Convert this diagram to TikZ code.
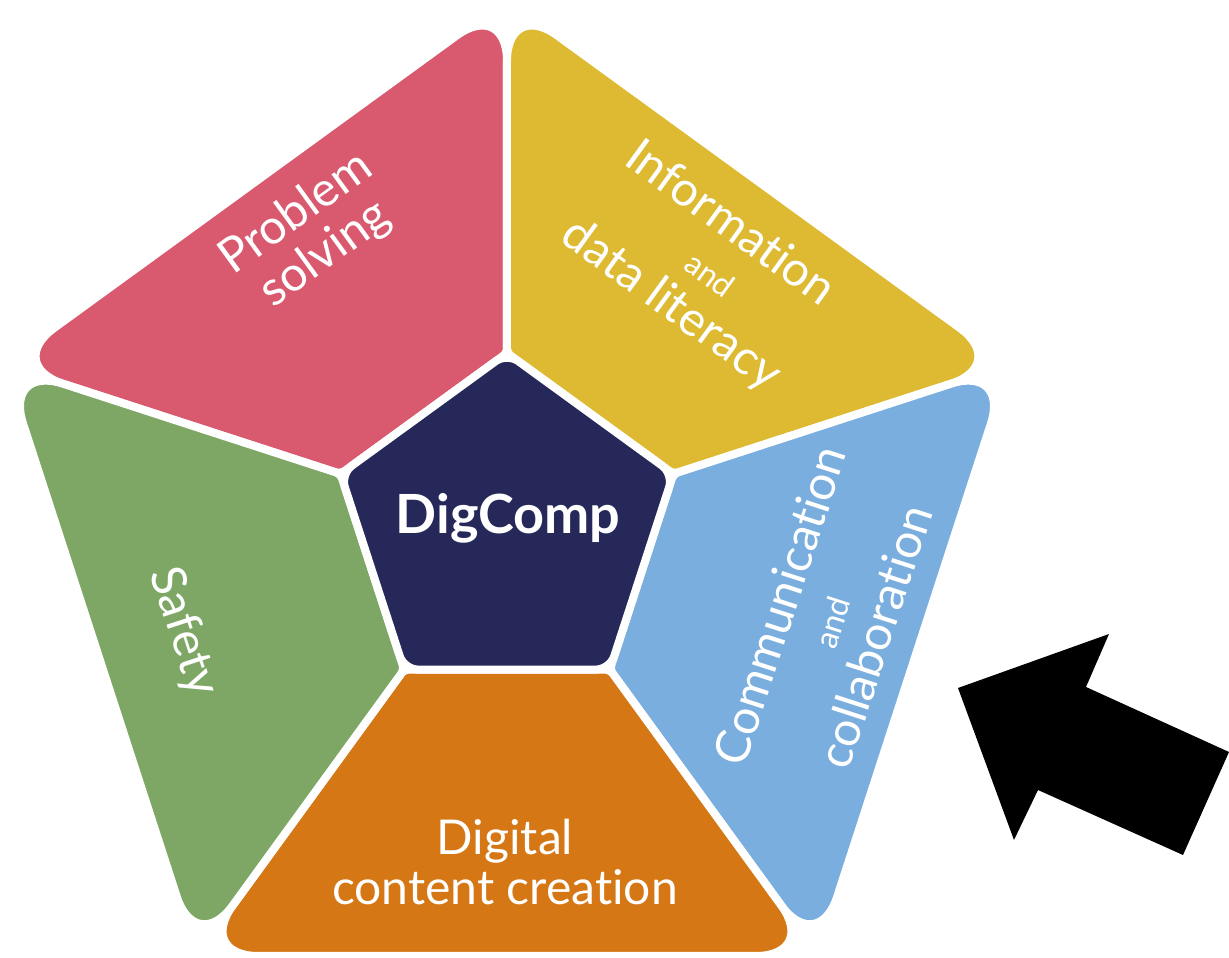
\documentclass[tikz,border=0pt]{standalone}
\usepackage{fontspec}
\setmainfont{Lato}[Ligatures={NoCommon}]
\usetikzlibrary{positioning}
\definecolor{probcol}{HTML}{D9596F}
\definecolor{infocol}{HTML}{DDBA31}
\definecolor{commcol}{HTML}{7AAEDE}
\definecolor{digicol}{HTML}{D57714}
\definecolor{safecol}{HTML}{7EA766}
\definecolor{corecol}{HTML}{26285A}
\tikzset{
	segment/.append style={
		draw=white,
		line width=8pt,
		line join=round,
	},
	labe/.append style={
		text=white,
		align = center,
		inner sep=0pt,
		font={\fontsize{48}{50}\selectfont}
	},
	core/.append style={
		text=white,
		inner sep=0pt,
		font={\fontsize{54}{58}\selectfont\bfseries}
	},
}
\newcommand{\andword}{{\fontsize{32}{34}\selectfont and}}

\begin{document}
\begin{tikzpicture}[x=1pt,y=1pt]
\useasboundingbox (-507,-430) rectangle (722,528);

% outer and inner corners
\coordinate (otop) at (90:529);
\coordinate (oleft) at (162:529);
\coordinate (olowleft) at (234:529);
\coordinate (olowright) at (306:529);
\coordinate (oright) at (18:529);
\coordinate (itop) at (90:175);
\coordinate (ileft) at (162:175);
\coordinate (ilowleft) at (234:175);
\coordinate (ilowright) at (306:175);
\coordinate (iright) at (18:175);

\path[segment, fill=probcol] (itop) [rounded corners=62pt] -- (otop) -- (oleft) [rounded corners=5pt] -- (ileft) -- cycle;
\path[segment, fill=infocol] (iright) [rounded corners=62pt] -- (oright) -- (otop) [rounded corners=5pt] -- (itop) -- cycle;
\path[segment, fill=commcol] (ilowright) [rounded corners=62pt] -- (olowright) -- (oright) [rounded corners=5pt] -- (iright) -- cycle;
\path[segment, fill=digicol] (ilowleft) [rounded corners=62pt] -- (olowleft) -- (olowright) [rounded corners=5pt] -- (ilowright) -- cycle;
\path[segment, fill=safecol] (ileft) [rounded corners=62pt] -- (oleft) -- (olowleft) [rounded corners=5pt] -- (ilowleft) -- cycle;
\path[segment, fill=corecol, rounded corners=14pt] (itop) -- (ileft) -- (ilowleft) -- (ilowright) -- (iright) -- cycle;

\node[labe, rotate=36] (probsolv) at (-196,294) {Problem\\solving};
\node[labe, rotate=-36] (infodata) at (193,263) {Information\\\hspace*{28pt}\andword\\data literacy};
\node[labe, rotate=72] (commcoll) at (320,-93) {Communication\\\andword\\collaboration};
\node[labe] (digcont) at (-2,-334) {Digital\\content creation};
\node[labe, rotate=-72] (safety) at (-324,-104) {Safety};
\node[core, anchor=base] (digcomp) at (1,-6) {DigComp};

% pointer
\fill (451,-160) -- (602,-106) -- (579,-159) -- (722,-224) -- (676,-327) -- (531,-262) -- (507,-312) -- cycle;
\end{tikzpicture}
\end{document}
